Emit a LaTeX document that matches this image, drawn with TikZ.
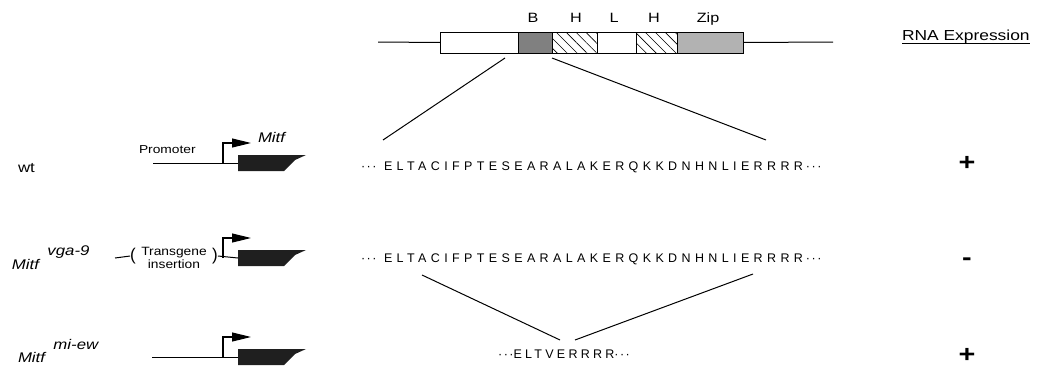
\documentclass[tikz,border=0pt]{standalone}
\usepackage{graphicx}
\usepackage{fontspec}
\setmainfont{Liberation Sans}
\newfontfamily\seqfont[LetterSpace=35]{Liberation Sans}
\newfontfamily\seqfontnarrow[LetterSpace=26]{Liberation Sans}
\newfontfamily\dotfont[LetterSpace=12]{Liberation Sans}
\usetikzlibrary{arrows.meta,patterns.meta}
\newcommand\wide[1]{\scalebox{1.2}[1]{#1}}
\tikzset{
  conn/.style={line width=1pt},
  dom/.style={draw, line width=1pt, minimum height=21pt, anchor=north west},
  hatch/.style={pattern={Lines[angle=-45,distance=7pt,line width=0.6pt]}},
  domlbl/.style={font=\fontsize{13.5}{15}\selectfont, anchor=base},
  gname/.style={font=\fontsize{14}{16}\selectfont\itshape, anchor=base west},
  seq/.style={font=\fontsize{12.5}{14}\selectfont\seqfont, anchor=base west},
  dots/.style={font=\fontsize{12.5}{14}\selectfont\dotfont, anchor=base west},
  tgtext/.style={font=\fontsize{12}{13}\selectfont, anchor=base},
  expr/.style={font=\fontsize{24}{26}\selectfont\bfseries, anchor=base},
  genefill/.style={fill=black!88},
  promarrow/.style={line width=1.1pt, -{Triangle[length=19pt,width=9pt]}},
  mitfgene/.pic={
    \coordinate (-in) at (0,0);
    \fill[genefill] (0,-8) -- (68,-8) -- (57,-3) -- (46,8) -- (0,8) -- cycle;
    \draw[promarrow] (-15,0) -- (-15,-20) -- (13,-20);
  }
}
\begin{document}
\begin{tikzpicture}[x=1pt,y=-1pt,every node/.style={inner sep=0pt,outer sep=0pt}]
\useasboundingbox (0,0) rectangle (1043,367);

% protein domain map
\node[dom, minimum width=78pt] (dN) at (440,32) {};
\node[dom, minimum width=34pt, fill=black!50] (dB) at (518,32) {};
\node[dom, minimum width=45pt, hatch] (dH1) at (552,32) {};
\node[dom, minimum width=39pt] (dL) at (597,32) {};
\node[dom, minimum width=41pt, hatch] (dH2) at (636,32) {};
\node[dom, minimum width=66pt, fill=black!30] (dZip) at (677,32) {};
\coordinate (flankL) at (378,42);
\coordinate (flankR) at (833,42);
\draw[conn] (flankL) -- (dN.west);
\draw[conn] (dZip.east) -- (flankR);

\node[domlbl] (lB) at (533,22) {\wide{B}};
\node[domlbl] (lH1) at (576,22) {\wide{H}};
\node[domlbl] (lL) at (614,22) {\wide{L}};
\node[domlbl] (lH2) at (654,22) {\wide{H}};
\node[domlbl] (lZip) at (708,22) {\wide{Zip}};

\node[font=\fontsize{14.5}{16}\selectfont, anchor=base west] (rna) at (902,40) {\wide{RNA Expression}};
\draw[line width=0.8pt] ([yshift=-3pt]rna.base west) -- ([yshift=-3pt]rna.base east);

% expansion of the basic region
\coordinate (zoomA) at (505,58);
\coordinate (zoomB) at (552,58);
\coordinate (zoomC) at (383,140);
\coordinate (zoomD) at (766,140);
\draw[conn] (zoomA) -- (zoomC);
\draw[conn] (zoomB) -- (zoomD);

% wild type
\node[font=\fontsize{14}{16}\selectfont, anchor=base west] (wt) at (18,172) {\wide{wt}};
\coordinate (wtL) at (153,163);
\pic (wtg) at (238,163) {mitfgene};
\draw[conn] (wtL) -- (wtg-in);
\node[font=\fontsize{11.5}{13}\selectfont, anchor=base west] (prom) at (139,153) {\wide{Promoter}};
\node[gname] (mitfwt) at (258,142) {\wide{Mitf}};
\node[dots] (wtd1) at (361,170) {···};
\node[seq] (wtseq) at (384,170) {ELTACIFPTESEARALAKERQKKDNHNLIERRRR};
\node[dots] (wtd2) at ([xshift=3pt]wtseq.base east) {···};
\node[expr] (wtex) at (967,170) {\wide{+}};

% vga-9 allele
\node[gname] (vga) at (12,269) {\wide{Mitf\hspace{7pt}\raisebox{14pt}{vga-9}}};
\coordinate (vgaL) at (115,258);
\node[font=\fontsize{17}{19}\selectfont] (lp) at (133,256) {(};
\node[tgtext] (tg1) at (174,255) {\scalebox{1.15}[1]{Transgene}};
\node[tgtext] (tg2) at (174,268) {\scalebox{1.15}[1]{insertion}};
\node[font=\fontsize{17}{19}\selectfont] (rp) at (215,256) {)};
\pic (vgag) at (238,258) {mitfgene};
\draw[conn] (vgaL) -- (lp.west);
\draw[conn] (rp.east) -- (vgag-in);
\node[dots] (vgad1) at (361,262) {···};
\node[seq] (vgaseq) at (384,262) {ELTACIFPTESEARALAKERQKKDNHNLIERRRR};
\node[dots] (vgad2) at ([xshift=3pt]vgaseq.base east) {···};
\node[expr] (vgaex) at (967,265) {\wide{-}};

% deletion in mi-ew
\coordinate (delA) at (422,275);
\coordinate (delB) at (753,274);
\coordinate (delC) at (560,340);
\coordinate (delD) at (575,340);
\draw[conn] (delA) -- (delC);
\draw[conn] (delB) -- (delD);

% mi-ew allele
\node[gname] (miew) at (18,362) {\wide{Mitf\hspace{7pt}\raisebox{13pt}{mi-ew}}};
\coordinate (miL) at (152,357);
\pic (mig) at (238,357) {mitfgene};
\draw[conn] (miL) -- (mig-in);
\node[font=\fontsize{12.5}{14}\selectfont, anchor=base] (miseq) at (564,358) {{\dotfont ···}{\seqfontnarrow ELTVERRRR}{\dotfont ···}};
\node[expr] (miex) at (967,362) {\wide{+}};
\end{tikzpicture}
\end{document}
